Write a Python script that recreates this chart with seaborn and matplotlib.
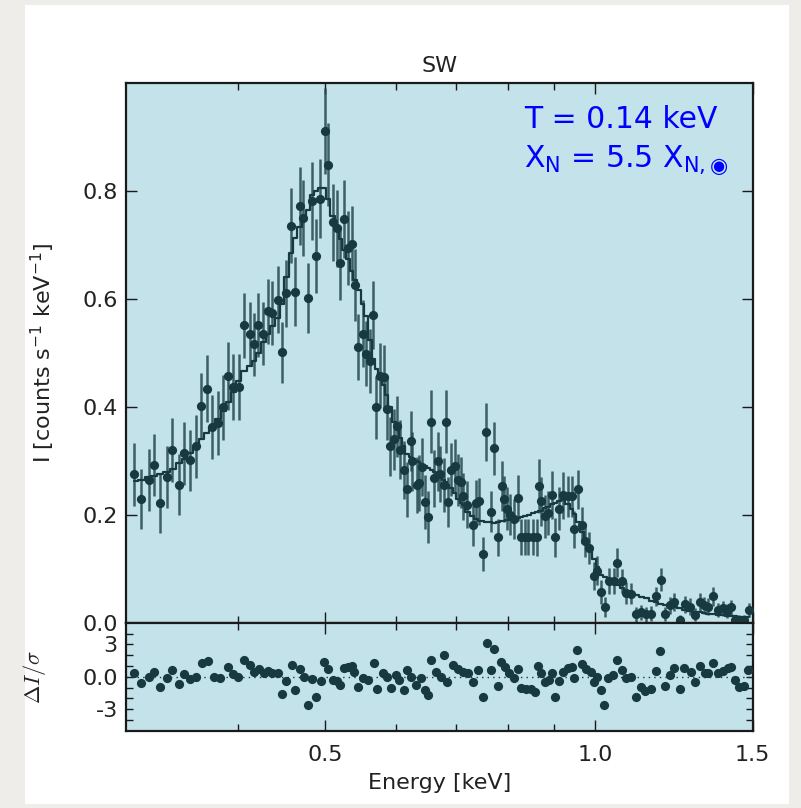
import numpy as np
import pandas as pd
import matplotlib
matplotlib.use("Agg")
import matplotlib.pyplot as plt
import seaborn as sns
from matplotlib.patches import Rectangle
from matplotlib.ticker import FixedLocator, FixedFormatter, NullFormatter

# ---------------- data ----------------
energy = [0.306, 0.312, 0.318, 0.322, 0.327, 0.333, 0.338, 0.344, 0.348, 0.354, 0.359,
          0.364, 0.369, 0.374, 0.380, 0.385, 0.390, 0.395, 0.401,
          0.406, 0.412, 0.417, 0.421, 0.427, 0.432, 0.437, 0.443, 0.448, 0.453,
          0.458, 0.463, 0.469, 0.473, 0.479, 0.484, 0.489, 0.494, 0.500, 0.504,
          0.510, 0.516, 0.520, 0.525, 0.530, 0.536, 0.540,
          0.545, 0.551, 0.556, 0.562, 0.566, 0.570, 0.576, 0.582, 0.586,
          0.591, 0.597, 0.602, 0.607, 0.612, 0.617, 0.623, 0.626, 0.633, 0.637, 0.641, 0.647, 0.652, 0.657, 0.662,
          0.668, 0.672, 0.679, 0.682, 0.686, 0.691, 0.698, 0.704, 0.709, 0.712, 0.720, 0.731, 0.737, 0.743, 0.750,
          0.756, 0.765, 0.771, 0.779, 0.788, 0.792, 0.798, 0.805, 0.813, 0.822, 0.828, 0.836, 0.843, 0.853, 0.862,
          0.866, 0.871, 0.879, 0.886, 0.896, 0.903, 0.913, 0.921, 0.933, 0.943, 0.948, 0.957, 0.967, 0.976, 0.986,
          0.998, 1.006, 1.015, 1.027, 1.038, 1.050, 1.059, 1.072, 1.084, 1.098, 1.112, 1.127, 1.141, 1.156, 1.171,
          1.184, 1.198, 1.212, 1.227, 1.243, 1.261, 1.276, 1.292, 1.309, 1.324, 1.339, 1.355, 1.372, 1.390, 1.405,
          1.420, 1.435, 1.450, 1.467, 1.484]

rate = [0.275, 0.229, 0.265, 0.292, 0.222, 0.270, 0.320, 0.256, 0.314, 0.301, 0.327,
        0.401, 0.434, 0.363, 0.370, 0.399, 0.458, 0.437, 0.437,
        0.551, 0.536, 0.516, 0.552, 0.536, 0.577, 0.574, 0.599, 0.501, 0.611,
        0.736, 0.614, 0.773, 0.750, 0.602, 0.782, 0.680, 0.786, 0.912, 0.849,
        0.742, 0.731, 0.667, 0.748, 0.695, 0.703, 0.626,
        0.511, 0.536, 0.499, 0.485, 0.570, 0.399, 0.458, 0.455, 0.396,
        0.327, 0.340, 0.364, 0.321, 0.283, 0.247, 0.337, 0.299, 0.256, 0.259, 0.289, 0.224, 0.196, 0.373, 0.268,
        0.299, 0.275, 0.256, 0.373, 0.224, 0.284, 0.290, 0.265, 0.260, 0.234, 0.219, 0.181, 0.222, 0.225, 0.127,
        0.354, 0.206, 0.323, 0.158, 0.253, 0.229, 0.211, 0.200, 0.192, 0.231, 0.159, 0.159, 0.159, 0.159, 0.158,
        0.253, 0.225, 0.197, 0.203, 0.237, 0.158, 0.211, 0.236, 0.234, 0.234, 0.173, 0.247, 0.181, 0.152, 0.138,
        0.086, 0.096, 0.057, 0.029, 0.077, 0.077, 0.111, 0.077, 0.055, 0.054, 0.016, 0.019, 0.016, 0.017, 0.049,
        0.080, 0.016, 0.032, 0.038, 0.005, 0.034, 0.030, 0.015, 0.038, 0.032, 0.030, 0.049, 0.024, 0.027, 0.022,
        0.029, 0.005, 0.005, 0.005, 0.024]

rate_err = [0.058, 0.056, 0.057, 0.058, 0.055, 0.057, 0.059, 0.056, 0.058, 0.057, 0.058,
            0.061, 0.062, 0.059, 0.060, 0.061, 0.063, 0.062, 0.062,
            0.060, 0.059, 0.058, 0.060, 0.059, 0.061, 0.060, 0.062, 0.057, 0.062,
            0.070, 0.064, 0.072, 0.070, 0.064, 0.073, 0.068, 0.073, 0.080, 0.077,
            0.072, 0.071, 0.068, 0.072, 0.069, 0.070, 0.066,
            0.061, 0.062, 0.060, 0.059, 0.063, 0.058, 0.060, 0.060, 0.058,
            0.055, 0.056, 0.057, 0.055, 0.053, 0.051, 0.056, 0.054, 0.052, 0.052, 0.054, 0.050, 0.048, 0.058, 0.053,
            0.054, 0.052, 0.050, 0.058, 0.047, 0.050, 0.050, 0.048, 0.047, 0.044, 0.043, 0.038, 0.043, 0.043, 0.032,
            0.054, 0.038, 0.050, 0.034, 0.046, 0.043, 0.040, 0.038, 0.037, 0.042, 0.034, 0.034, 0.034, 0.034, 0.034,
            0.050, 0.046, 0.040, 0.041, 0.045, 0.036, 0.040, 0.044, 0.038, 0.038, 0.034, 0.036, 0.033, 0.031, 0.030,
            0.026, 0.027, 0.022, 0.018, 0.024, 0.024, 0.027, 0.022, 0.020, 0.020, 0.014, 0.014, 0.014, 0.014, 0.018,
            0.022, 0.013, 0.016, 0.017, 0.010, 0.016, 0.015, 0.012, 0.017, 0.015, 0.015, 0.018, 0.013, 0.014, 0.013,
            0.014, 0.010, 0.010, 0.010, 0.013]

# folded model, one value per spectral bin
model_rate = [0.262, 0.265, 0.270, 0.272, 0.276, 0.280, 0.285, 0.296, 0.303, 0.315, 0.328,
              0.340, 0.351, 0.362, 0.378, 0.392, 0.410, 0.428, 0.448,
              0.466, 0.476, 0.485, 0.500, 0.521, 0.536, 0.550, 0.565, 0.590, 0.640,
              0.686, 0.713, 0.733, 0.746, 0.766, 0.792, 0.800, 0.806, 0.805, 0.785,
              0.754, 0.728, 0.711, 0.691, 0.674, 0.652, 0.636,
              0.616, 0.590, 0.568, 0.524, 0.488, 0.471, 0.456, 0.441, 0.423,
              0.400, 0.373, 0.358, 0.342, 0.327, 0.312, 0.307, 0.304, 0.300, 0.297, 0.294, 0.290, 0.287, 0.284, 0.280,
              0.276, 0.273, 0.264, 0.260, 0.255, 0.249, 0.240, 0.230, 0.222, 0.218, 0.205, 0.197, 0.193, 0.189, 0.188,
              0.187, 0.186, 0.185, 0.186, 0.188, 0.189, 0.191, 0.192, 0.193, 0.195, 0.196, 0.197, 0.199, 0.203, 0.206,
              0.207, 0.208, 0.212, 0.215, 0.220, 0.222, 0.226, 0.227, 0.220, 0.211, 0.202, 0.186, 0.169, 0.155, 0.140,
              0.118, 0.104, 0.089, 0.084, 0.079, 0.074, 0.070, 0.064, 0.059, 0.055, 0.051, 0.048, 0.045, 0.041, 0.038,
              0.035, 0.033, 0.031, 0.029, 0.027, 0.024, 0.022, 0.020, 0.019, 0.018, 0.017, 0.016, 0.015, 0.014, 0.013,
              0.012, 0.012, 0.011, 0.011, 0.010]

resid_energy = [0.306, 0.312, 0.318, 0.322, 0.327, 0.333, 0.338, 0.344, 0.348, 0.354, 0.359,
                0.365, 0.370, 0.376, 0.382, 0.390, 0.395, 0.400, 0.406, 0.412, 0.417, 0.422,
                0.428, 0.432, 0.437, 0.443, 0.448, 0.453, 0.459, 0.463, 0.469, 0.474, 0.479,
                0.484, 0.489, 0.495, 0.499, 0.504, 0.510, 0.516, 0.520, 0.525, 0.530, 0.536,
                0.539, 0.545, 0.551, 0.558, 0.567, 0.572, 0.580, 0.586, 0.592, 0.600, 0.605,
                0.612, 0.618, 0.624, 0.632, 0.640, 0.647, 0.651, 0.657, 0.665,
                0.674, 0.679, 0.685, 0.694, 0.703, 0.712, 0.722, 0.731, 0.740, 0.750, 0.758,
                0.765, 0.771, 0.779, 0.786, 0.794, 0.803, 0.812, 0.822, 0.828, 0.838, 0.848,
                0.858, 0.865, 0.871, 0.879, 0.888, 0.896, 0.903, 0.913, 0.921, 0.933, 0.943,
                0.948, 0.956, 0.967, 0.978, 0.989, 0.998, 1.006, 1.017, 1.025, 1.034, 1.048,
                1.059, 1.072, 1.084, 1.098, 1.112, 1.125, 1.138, 1.154, 1.171, 1.181, 1.198,
                1.212, 1.227, 1.243, 1.259, 1.279, 1.294, 1.309, 1.326, 1.339, 1.355, 1.372,
                1.390, 1.408, 1.420, 1.435, 1.450, 1.467, 1.482]
resid_value = [0.31, -0.56, 0.0, 0.47, -0.99, -0.16, 0.62, -0.68, 0.25, -0.25, 0.0,
               1.24, 1.49, 0.0, -0.16, 0.93, 0.25, 0.0, 1.55, 1.09, 0.47, 0.68,
               0.31, 0.56, 0.31, 0.31, -1.61, -0.37, 1.09, -1.24, 0.68, 0.0, -2.64,
               -0.25, -1.92, -0.37, 1.40, 0.68, -0.31, -0.37, -0.78, 0.78, 0.87, 0.99,
               0.47, -0.99, -0.16, -0.31, 1.24, -1.18, 0.31, 0.0, -1.09, 0.16, -0.31,
               -1.24, 0.62, 0.0, -0.78, -0.16, -1.24, -1.71, 1.55, 0.47,
               0.0, 2.02, -0.47, 1.09, 0.68, 0.47, 0.31, -0.47, 0.62, -1.86, 3.16,
               0.62, 2.54, -0.87, 1.40, 0.87, 0.31, -0.16, 0.68, -1.09, -1.18, -1.18,
               -1.40, 0.99, 0.31, -0.47, -0.31, 0.31, -1.92, -0.37, 0.47, 0.78, 0.87,
               -0.16, 2.48, 1.18, 0.68, 0.47, -0.47, 0.0, -1.24, -2.64, -0.16, 0.16,
               1.55, 0.62, -0.16, 0.0, -1.86, -0.99, -1.30, -1.18, 0.56, 2.42, -0.87,
               0.16, 0.78, -1.18, 0.78, 0.47, -0.47, 0.99, 0.37, 0.37, 1.30, 0.31,
               0.56, 0.78, 0.87, -0.31, -0.99, -0.87, 0.62]

x_ticks = [0.5, 1.0, 1.5]
x_tick_labels = ["0.5", "1.0", "1.5"]
x_minor_ticks = [0.4, 0.6, 0.7, 0.8, 0.9]
y_ticks = [0.0, 0.2, 0.4, 0.6, 0.8]
y_tick_labels = ["0.0", "0.2", "0.4", "0.6", "0.8"]
res_ticks = [-3, 0, 3]
res_tick_labels = ["-3", "0.0", "3"]
res_minor_ticks = [-4, -2, -1, 1, 2, 4]

# ---------------- style ----------------
sns.set_theme(style="ticks")
plt.rcParams['font.family'] = ['DejaVu Sans']
plt.rcParams['mathtext.fontset'] = 'dejavusans'

dark = '#163a40'
bar_col = '#24484e'
panel_bg = '#c3e2ea'
spine_col = '#1a1a1a'

fig = plt.figure(figsize=(8.01, 8.08), dpi=100, facecolor='#eeede9')
fig.patches.append(Rectangle((24.5 / 801, 1 - 804 / 808), (789 - 24.5) / 801, (804 - 5) / 808,
                             transform=fig.transFigure, facecolor='white', edgecolor='none', zorder=-5))

L, W = 126 / 801, (752.7 - 126) / 801
ax1 = fig.add_axes([L, 1 - 622.7 / 808, W, (622.7 - 83.3) / 808])
ax2 = fig.add_axes([L, 1 - 730.7 / 808, W, (730.7 - 622.7) / 808], sharex=ax1)

df = pd.DataFrame({'energy': energy, 'rate': rate, 'err': rate_err, 'model': model_rate})
rdf = pd.DataFrame({'energy': resid_energy, 'resid': resid_value})

for ax in (ax1, ax2):
    ax.set_facecolor(panel_bg)
    for s in ax.spines.values():
        s.set_linewidth(1.6)
        s.set_color(spine_col)

# top panel
ax1.errorbar(df['energy'], df['rate'], yerr=df['err'], fmt='none', ecolor=bar_col,
             elinewidth=1.8, alpha=0.85, zorder=2)
sns.lineplot(data=df, x='energy', y='model', ax=ax1, color=dark, lw=1.6,
             drawstyle='steps-mid', zorder=3)
sns.scatterplot(data=df, x='energy', y='rate', ax=ax1, color=dark, s=44, linewidth=0, zorder=4)

# residual panel
ax2.axhline(0, ls=(0, (1, 3)), color=dark, lw=1.0, zorder=1)
sns.scatterplot(data=rdf, x='energy', y='resid', ax=ax2, color=dark, s=44, linewidth=0, zorder=4)

ax1.set_xscale('log')
ax1.set_xlim(0.3, 1.5)
ax1.set_ylim(0.0, 1.0)
ax2.set_ylim(-5, 5)

ax1.xaxis.set_major_locator(FixedLocator(x_ticks))
ax1.xaxis.set_major_formatter(FixedFormatter(x_tick_labels))
ax1.xaxis.set_minor_locator(FixedLocator(x_minor_ticks))
ax1.xaxis.set_minor_formatter(NullFormatter())
ax1.yaxis.set_major_locator(FixedLocator(y_ticks))
ax1.yaxis.set_major_formatter(FixedFormatter(y_tick_labels))
ax2.yaxis.set_major_locator(FixedLocator(res_ticks))
ax2.yaxis.set_major_formatter(FixedFormatter(res_tick_labels))
ax2.yaxis.set_minor_locator(FixedLocator(res_minor_ticks))

for ax in (ax1, ax2):
    ax.tick_params(which='major', direction='in', length=8, width=1.0, color=spine_col,
                   top=True, right=True, labelsize=16, pad=6, labelcolor='#222222')
    ax.tick_params(which='minor', direction='in', length=5, width=1.0, color=spine_col,
                   top=True, right=True)
ax2.tick_params(axis='y', which='major', length=5)
ax1.tick_params(labelbottom=False)
ax2.tick_params(axis='x', pad=10)

ax1.set_xlabel('')
ax1.set_ylabel('I [counts s$^{-1}$ keV$^{-1}$]', fontsize=16, color='#222222')
ax1.yaxis.set_label_coords(-0.11, 0.5)
ax2.set_ylabel(r'$\Delta I/\sigma$', fontsize=16, color='#222222', math_fontfamily='cm')
ax2.yaxis.set_label_coords(-0.125, 0.5)
ax2.set_xlabel('Energy [keV]', fontsize=16, labelpad=6, color='#222222')
ax1.set_title('SW', fontsize=16, pad=8, color='#222222')

ax1.text(0.635, 0.932, 'T = 0.14 keV', transform=ax1.transAxes, color='#0000ff',
         fontsize=21.5, ha='left', va='center')
ax1.text(0.635, 0.857, r'X$_\mathregular{N}$ = 5.5 X$_\mathregular{N,◉}$', transform=ax1.transAxes,
         color='#0000ff', fontsize=21.5, ha='left', va='center')

fig.savefig('out.png', dpi=100, facecolor=fig.get_facecolor())
